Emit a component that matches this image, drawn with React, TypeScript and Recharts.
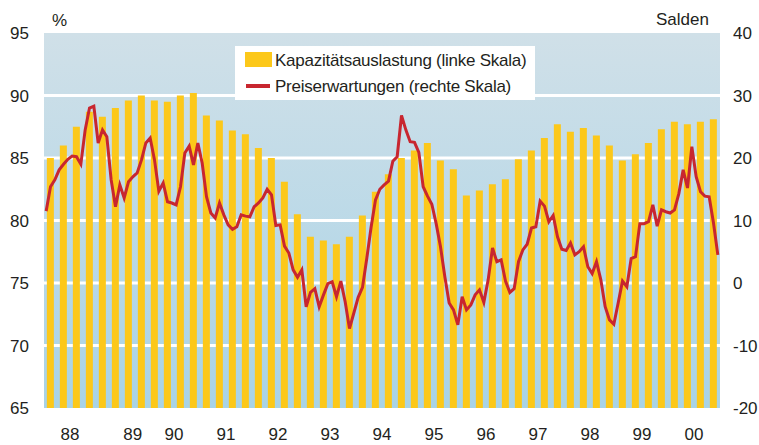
import React from 'react'
import { ComposedChart, Bar, Line, XAxis, YAxis, CartesianGrid } from 'recharts'

const font = '"Liberation Sans", Arial, Helvetica, sans-serif'

// year labels on the time axis and where they sit (in months from Jan 88)
const years = ['88', '89', '90', '91', '92', '93', '94', '95', '96', '97', '98', '99', '00']
const yearTicks = [6, 20.5, 30, 42, 54, 66, 78, 90, 102, 114, 126, 138, 150]

const leftTicks = [65, 70, 75, 80, 85, 90, 95]
const rightTicks = [-20, -10, 0, 10, 20, 30, 40]
const gridValues = [70, 75, 80, 85, 90]

// Kapazitätsauslastung, quarterly, %
const capacityUtilisation = [
    85.0, 86.0, 87.5, 88.7,
    88.3, 89.0, 89.6, 90.0,
    89.6, 89.5, 90.0, 90.2,
    88.4, 88.0, 87.2, 86.9,
    85.8, 85.0, 83.1, 80.5,
    78.7, 78.4, 78.1, 78.7,
    80.4, 82.3, 83.7, 85.0,
    85.6, 86.2, 84.8, 84.1,
    82.0, 82.4, 82.9, 83.3,
    84.9, 85.6, 86.6, 87.7,
    87.1, 87.4, 86.8, 86.0,
    84.8, 85.3, 86.2, 87.3,
    87.9, 87.7, 87.9, 88.1,
]

// Preiserwartungen, monthly, Salden
const priceExpectations = [
    11.5, 15.4, 16.5, 18.1, 19.0, 19.8, 20.3, 20.2, 19.0, 24.5, 28.0, 28.3,
    22.4, 24.5, 23.4, 16.5, 12.2, 15.7, 13.6, 16.2, 17.0, 17.6, 19.7, 22.4,
    23.2, 19.7, 14.7, 16.0, 13.0, 12.8, 12.5, 15.4, 20.8, 21.9, 18.9, 22.4,
    19.2, 13.8, 11.2, 10.4, 12.8, 10.9, 9.3, 8.6, 9.0, 10.9, 10.7, 10.6,
    12.2, 12.8, 13.6, 15.0, 14.1, 9.2, 9.3, 5.9, 4.8, 2.1, 0.9, 2.1,
    -3.8, -1.5, -0.9, -3.8, -1.9, -0.1, 0.2, -2.2, 0.3, -3.0, -7.3, -4.8,
    -2.3, -0.7, 4.0, 9.0, 13.3, 15.0, 15.7, 16.3, 19.5, 20.2, 26.8, 24.5,
    22.6, 22.5, 20.9, 15.4, 13.9, 12.6, 9.5, 5.8, 1.0, -3.2, -4.3, -6.7,
    -2.2, -4.3, -3.5, -1.9, -1.1, -3.1, 0.5, 5.6, 3.4, 3.7, 0.3, -1.5,
    -0.9, 3.4, 5.3, 6.2, 8.8, 9.0, 13.1, 12.3, 9.8, 10.8, 7.4, 5.4,
    5.2, 6.4, 4.5, 5.0, 5.8, 2.6, 1.5, 3.4, 0.5, -3.8, -5.9, -6.6,
    -3.2, 0.3, -0.6, 3.9, 4.2, 9.5, 9.5, 9.8, 12.5, 9.1, 11.7, 11.4,
    11.2, 11.7, 14.3, 18.1, 15.2, 21.8, 17.0, 14.6, 13.9, 13.8, 9.6, 4.5,
]

const quarterData = capacityUtilisation.map((value, i) => ({
    q: years[Math.floor(i / 4)] + 'Q' + ((i % 4) + 1),
    value,
}))
const monthData = priceExpectations.map((value, i) => ({ t: i + 0.5, value }))

const tickStyle = { fill: '#231f20', fontSize: 17, fontFamily: font }
const textStyle: React.CSSProperties = {
    position: 'absolute',
    fontFamily: font,
    fontSize: 17,
    lineHeight: '17px',
    color: '#231f20',
    whiteSpace: 'nowrap',
}

export default function App() {
    return (
        <div style={{ position: 'absolute', left: 0, top: 0, width: 759, height: 445 }}>
            <ComposedChart
                width={759}
                height={445}
                data={quarterData}
                margin={{ top: 33, right: 0, bottom: 0, left: 0 }}
                barCategoryGap="22%"
            >
                <defs>
                    <linearGradient id="plotBg" x1="0" y1="0" x2="0" y2="1">
                        <stop offset="0%" stopColor="#d0e0e8" />
                        <stop offset="100%" stopColor="#a8d3e7" />
                    </linearGradient>
                </defs>
                <CartesianGrid
                    yAxisId="left"
                    vertical={false}
                    horizontalValues={gridValues}
                    stroke="#ffffff"
                    strokeWidth={3}
                    fill="url(#plotBg)"
                />
                <XAxis xAxisId="q" dataKey="q" hide />
                <XAxis
                    xAxisId="m"
                    type="number"
                    dataKey="t"
                    domain={[0, 156]}
                    ticks={yearTicks}
                    interval={0}
                    tickFormatter={(_v: number, i: number) => years[i]}
                    height={37}
                    axisLine={false}
                    tickLine={false}
                    tickSize={0}
                    tickMargin={20}
                    tick={tickStyle}
                />
                <YAxis
                    yAxisId="left"
                    domain={[65, 95]}
                    ticks={leftTicks}
                    interval={0}
                    width={44}
                    axisLine={false}
                    tickLine={false}
                    tickSize={0}
                    tickMargin={15}
                    tick={tickStyle}
                />
                <YAxis
                    yAxisId="right"
                    orientation="right"
                    domain={[-20, 40]}
                    ticks={rightTicks}
                    interval={0}
                    width={39}
                    axisLine={false}
                    tickLine={false}
                    tickSize={0}
                    tickMargin={13}
                    tick={{ ...tickStyle, textAnchor: 'start' }}
                />
                <Bar
                    xAxisId="q"
                    yAxisId="left"
                    dataKey="value"
                    fill="#fcc81a"
                    isAnimationActive={false}
                />
                <Line
                    xAxisId="m"
                    yAxisId="right"
                    data={monthData}
                    dataKey="value"
                    type="linear"
                    stroke="#c8262f"
                    strokeWidth={3}
                    dot={false}
                    activeDot={false}
                    isAnimationActive={false}
                />
            </ComposedChart>

            <div style={{ ...textStyle, left: 52, top: 12 }}>%</div>
            <div style={{ ...textStyle, left: 656, top: 11 }}>Salden</div>

            {/* legend */}
            <div style={{ position: 'absolute', left: 235, top: 46, width: 300, height: 54, background: '#ffffff' }}>
                <div style={{ position: 'absolute', left: 10, top: 6, width: 27, height: 15, background: '#fcc81a' }} />
                <div style={{ ...textStyle, left: 40, top: 6, letterSpacing: -0.25 }}>
                    Kapazitätsauslastung (linke Skala)
                </div>
                <div style={{ position: 'absolute', left: 11, top: 38, width: 24, height: 4, background: '#c8262f' }} />
                <div style={{ ...textStyle, left: 40, top: 32, letterSpacing: -0.25 }}>
                    Preiserwartungen (rechte Skala)
                </div>
            </div>
        </div>
    )
}
